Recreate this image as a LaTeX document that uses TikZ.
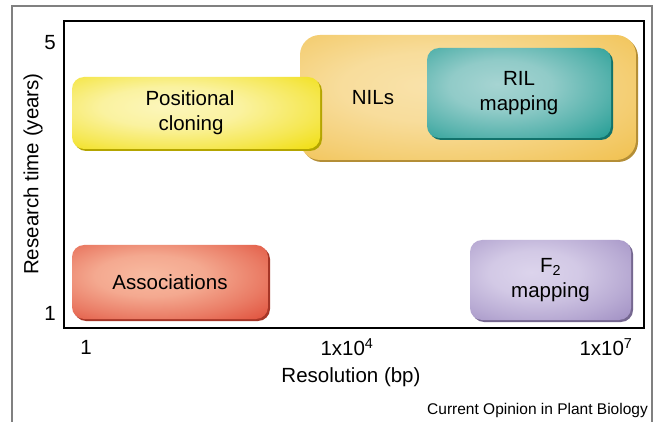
\documentclass[tikz,border=0pt]{standalone}
\usepackage{fontspec}
\setmainfont{Liberation Sans}
\usetikzlibrary{shadows}
\definecolor{ylwE}{HTML}{F0DC00}
\definecolor{ylwC}{HTML}{FCF6BC}
\definecolor{orgE}{HTML}{F0BE48}
\definecolor{orgC}{HTML}{F9E2AA}
\definecolor{tealE}{HTML}{18988F}
\definecolor{tealC}{HTML}{A6D4D2}
\definecolor{redE}{HTML}{DE4834}
\definecolor{redC}{HTML}{F8BAA0}
\definecolor{purE}{HTML}{9C8AC0}
\definecolor{purC}{HTML}{DCD4EC}
\definecolor{frameGray}{HTML}{808080}
\colorlet{ci}{white}
\colorlet{co}{black}
\pgfdeclareradialshading[ci,co]{glow}{\pgfpoint{-6bp}{5bp}}{color(0bp)=(ci); color(14bp)=(ci!85!co); color(28bp)=(ci!45!co); color(42bp)=(co); color(90bp)=(co)}
\newcommand{\lblfont}{\fontsize{20.5}{25}\selectfont}
\tikzset{
  cbox/.style n args={4}{shading=glow,
    /utils/exec={\colorlet{ci}{#1}\colorlet{co}{#2}},
    drop shadow={shadow xshift=2pt,shadow yshift=-2pt,opacity=1,fill=#2!75!black},
    rounded corners=#3, inner sep=0pt, font=\lblfont, align=center, text=black,
    minimum width=#4},
  lbl/.style={font=\lblfont, text=black, inner sep=0pt},
  capstyle/.style={font=\fontsize{15.5}{18}\selectfont, text=black, inner sep=0pt}
}
\begin{document}
\begin{tikzpicture}[x=1pt,y=-1pt]
\useasboundingbox (0,0) rectangle (656,422);
\fill[white] (0,0) rectangle (656,422);
% outer frame
\draw[frameGray, line width=1.4pt] (12,422) -- (12,6) -- (652,6) -- (652,422);
% axes box
\node[draw=black, line width=2pt, minimum width=580pt, minimum height=307pt, inner sep=0pt] (axes) at (354,174.5) {};
% boxes
\node[cbox={orgC}{orgE}{20pt}{336pt}, minimum height=125pt] (nils) at (468,97.5) {};
\node[lbl] (nilstxt) at (373,98) {NILs};
\node[cbox={tealC}{tealE}{12pt}{184pt}, minimum height=90pt] (ril) at (519,93) {RIL\\mapping};
\node[cbox={ylwC}{ylwE}{12pt}{248pt}, minimum height=72pt] (pos) at (196,113) {Positional\hspace*{12pt}\\cloning\hspace*{10pt}};
\node[cbox={redC}{redE}{12pt}{196pt}, minimum height=74pt] (assoc) at (170,282) {Associations};
\node[cbox={purC}{purE}{12pt}{161pt}, minimum height=80pt] (f2) at (550.5,280) {F\textsubscript{2}\\mapping};
% tick labels
\node[lbl] (y5) at (50,43) {5};
\node[lbl] (y1) at (50,313) {1};
\node[lbl] (x1) at (86,347) {1};
\node[lbl] (x4) at (347,347) {1x10\textsuperscript{4}};
\node[lbl] (x7) at (606,347) {1x10\textsuperscript{7}};
% axis titles
\node[lbl, rotate=90] (ytitle) at (33,174) {Research time (years)};
\node[lbl] (xtitle) at (351,377) {Resolution (bp)};
% caption
\node[capstyle, anchor=east] (caption) at (648,410) {Current Opinion in Plant Biology};
\end{tikzpicture}
\end{document}
